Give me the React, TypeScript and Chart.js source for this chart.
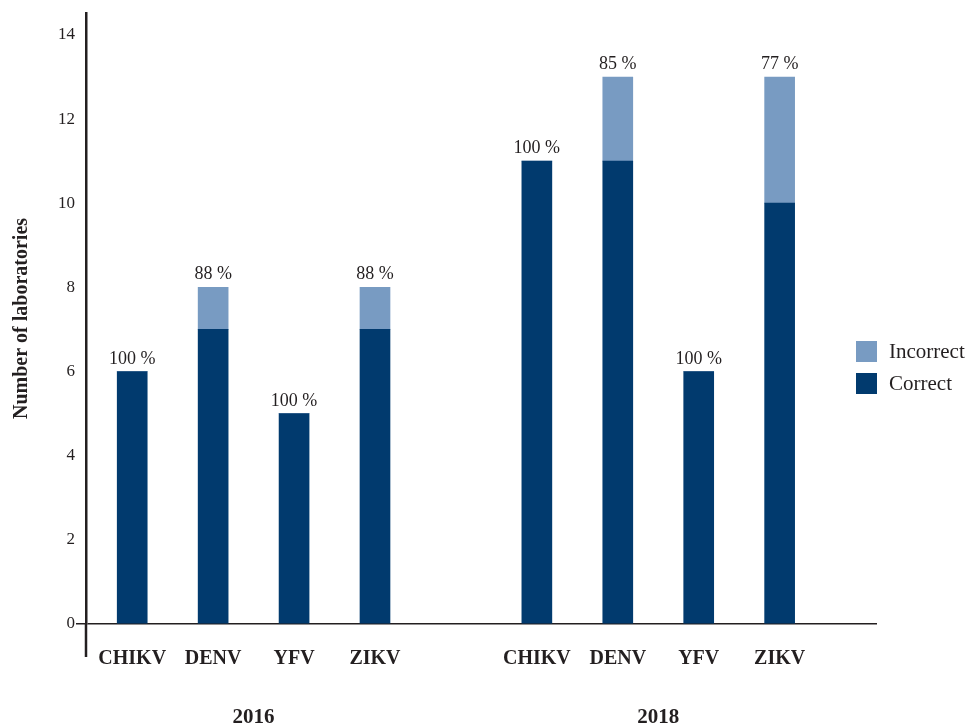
import React, { useEffect, useRef } from 'react';
import { Chart, registerables } from 'chart.js';

Chart.register(...registerables);

// ---- data ----
const categories = ['CHIKV', 'DENV', 'YFV', 'ZIKV', '', 'CHIKV', 'DENV', 'YFV', 'ZIKV'];
const correct: (number | null)[] = [6, 7, 5, 7, null, 11, 11, 6, 10];
const incorrect: (number | null)[] = [0, 1, 0, 1, null, 0, 2, 0, 3];
const years = ['2016', '2018'];
const yTicks = [0, 2, 4, 6, 8, 10, 12, 14];
const seriesNames = ['Correct', 'Incorrect'];
const seriesColors = ['#013A6E', '#789BC2'];

// ---- styling ----
const FONT = "'Liberation Serif', 'Times New Roman', serif";
const TEXT = '#231f20';
const AXIS = '#231f20';

// group centres (in category-index units) for the year labels
const groups: number[][] = [];
{
  let cur: number[] = [];
  categories.forEach((c, i) => {
    if (c === '') {
      if (cur.length) groups.push(cur);
      cur = [];
    } else cur.push(i);
  });
  if (cur.length) groups.push(cur);
}
const yearCenters = groups.map((g) => (g[0] + g[g.length - 1]) / 2);

const toPoints = (arr: (number | null)[]) =>
  arr
    .map((v, i) => (v == null ? null : { x: i, y: v }))
    .filter((p) => p !== null) as { x: number; y: number }[];

const X_MIN = -0.571;
const X_MAX = 9.203;

const percentLabels = {
  id: 'percentLabels',
  afterDatasetsDraw(chart: any) {
    const ctx = chart.ctx;
    const topMeta = chart.getDatasetMeta(1);
    const pts = toPoints(correct);
    ctx.save();
    ctx.font = `18px ${FONT}`;
    ctx.fillStyle = TEXT;
    ctx.textAlign = 'center';
    ctx.textBaseline = 'alphabetic';
    topMeta.data.forEach((el: any, k: number) => {
      const idx = pts[k].x;
      const c = correct[idx] as number;
      const w = incorrect[idx] as number;
      const pct = Math.round((c / (c + w)) * 100);
      ctx.fillText(`${pct} %`, el.x, el.y - 8);
    });
    ctx.restore();
  },
};

const axisExtension = {
  id: 'axisExtension',
  afterDraw(chart: any) {
    const { ctx, chartArea } = chart;
    ctx.save();
    ctx.strokeStyle = AXIS;
    ctx.lineWidth = 2.5;
    ctx.beginPath();
    ctx.moveTo(chartArea.left, chartArea.bottom);
    ctx.lineTo(chartArea.left, chartArea.bottom + 33);
    ctx.stroke();
    ctx.restore();
  },
};

export default function App() {
  const ref = useRef<HTMLCanvasElement | null>(null);

  useEffect(() => {
    if (!ref.current) return;
    const chart = new Chart(ref.current, {
      type: 'bar',
      data: {
        datasets: [
          {
            label: seriesNames[0],
            data: toPoints(correct),
            backgroundColor: seriesColors[0],
            barThickness: 30,
            stack: 's',
          },
          {
            label: seriesNames[1],
            data: toPoints(incorrect),
            backgroundColor: seriesColors[1],
            barThickness: 30,
            stack: 's',
          },
        ],
      } as any,
      options: {
        animation: false,
        responsive: false,
        devicePixelRatio: 1,
        layout: { padding: { top: 13, right: 93, bottom: 0, left: 0 } },
        plugins: {
          legend: { display: false },
          tooltip: { enabled: false },
        },
        scales: {
          x: {
            type: 'linear',
            min: X_MIN,
            max: X_MAX,
            offset: false,
            stacked: true,
            grid: { display: false, drawTicks: false, offset: false },
            border: { display: false },
            afterBuildTicks: (s: any) => {
              s.ticks = categories.map((_, i) => ({ value: i }));
            },
            afterFit: (s: any) => {
              s.height = 62;
            },
            ticks: {
              autoSkip: false,
              maxRotation: 0,
              minRotation: 0,
              padding: 23,
              color: TEXT,
              font: { family: FONT, size: 20, weight: 'bold' },
              callback: (v: any) => categories[v as number] ?? '',
            },
          },
          x2: {
            type: 'linear',
            position: 'bottom',
            min: X_MIN,
            max: X_MAX,
            offset: false,
            grid: { display: false, drawTicks: false, offset: false },
            border: { display: false },
            afterBuildTicks: (s: any) => {
              s.ticks = yearCenters.map((v) => ({ value: v }));
            },
            afterFit: (s: any) => {
              s.height = 41;
            },
            ticks: {
              autoSkip: false,
              maxRotation: 0,
              minRotation: 0,
              padding: 19,
              color: TEXT,
              font: { family: FONT, size: 21, weight: 'bold' },
              callback: (v: any) => years[yearCenters.indexOf(v as number)] ?? '',
            },
          },
          y: {
            min: 0,
            max: 14.52,
            stacked: true,
            afterBuildTicks: (s: any) => {
              s.ticks = yTicks.map((v) => ({ value: v }));
            },
            afterFit: (s: any) => {
              s.width = 86;
            },
            grid: {
              drawOnChartArea: true,
              drawTicks: true,
              tickLength: 10,
              lineWidth: 1.5,
              color: (c: any) => (c.tick && c.tick.value === 0 ? AXIS : 'rgba(0,0,0,0)'),
            },
            border: { display: true, color: AXIS, width: 2.5 },
            ticks: {
              padding: 1,
              color: TEXT,
              font: { family: FONT, size: 17 },
            },
            title: {
              display: true,
              text: 'Number of laboratories',
              color: TEXT,
              font: { family: FONT, size: 20, weight: 'bold' },
              padding: { top: 10, bottom: 0 },
            },
          },
        },
      } as any,
      plugins: [percentLabels, axisExtension],
    });
    return () => chart.destroy();
  }, []);

  const legendRows = [
    { name: seriesNames[1], color: seriesColors[1], top: 340 },
    { name: seriesNames[0], color: seriesColors[0], top: 372 },
  ];

  return (
    <div style={{ position: 'absolute', left: 0, top: 0, width: 970, height: 727, background: '#fff' }}>
      <canvas ref={ref} width={970} height={727} style={{ display: 'block', width: 970, height: 727 }} />
      {legendRows.map((r) => (
        <div
          key={r.name}
          style={{
            position: 'absolute',
            left: 856,
            top: r.top,
            height: 22,
            display: 'flex',
            alignItems: 'center',
            fontFamily: FONT,
            fontSize: 21,
            color: TEXT,
            whiteSpace: 'nowrap',
          }}
        >
          <span style={{ display: 'inline-block', width: 21, height: 21, background: r.color, marginRight: 12 }} />
          <span>{r.name}</span>
        </div>
      ))}
    </div>
  );
}
